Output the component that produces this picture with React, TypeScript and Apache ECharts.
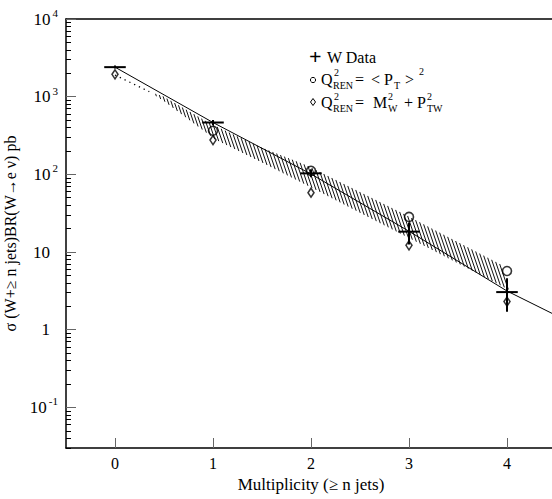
import React, { useEffect, useRef } from "react";
import * as echarts from "echarts";

// ---- data ----
const multiplicity = [0, 1, 2, 3, 4];
const wData = [2400, 465, 103, 18.3, 3.05];
const wErrLow = [2300, 430, 92, 12.5, 1.7];
const wErrHigh = [2520, 500, 116, 24, 4.6];

const circleN = [1, 2, 3, 4];
const circleQ = [364, 111, 28.3, 5.7];

const diamondN = [0, 1, 2, 3, 4];
const diamondQ = [1940, 276, 58, 12.2, 2.3];

const fitX = [0, 1, 2, 3, 4, 4.5];
const fitY = [2400, 465, 101, 18.5, 3.15, 1.53];

const dottedX = [0, 0.35];
const dottedY = [1900, 1160];

const bandX = [0.35, 0.5, 1, 1.5, 2, 2.5, 3, 3.5, 4];
const bandLow = [1160, 860, 280, 136, 64, 30, 14.2, 6.7, 3.15];
const bandHigh = [1160, 1010, 450, 228, 130, 63, 30.5, 14.3, 6.7];

const xTicks = [0, 1, 2, 3, 4];
const yMajorTicks = [0.1, 1, 10, 100, 1000, 10000];
const yMinorMantissas = [2, 3, 4, 5, 6, 7, 8, 9];
const yDecades = [0.01, 0.1, 1, 10, 100, 1000];

const FONT = "'Liberation Serif', 'Times New Roman', serif";

export default function App() {
  const ref = useRef<HTMLDivElement>(null);
  useEffect(() => {
    if (!ref.current) return;
    const chart = echarts.init(ref.current, undefined, { renderer: "svg" });

    const minorTicks: number[] = [];
    yDecades.forEach((d) =>
      yMinorMantissas.forEach((m) => {
        const v = +(m * d).toPrecision(3);
        if (v >= 0.03 && v <= 10000) minorTicks.push(v);
      })
    );

    const bandSegments = bandX.slice(0, -1).map((x, i) => [
      x, bandLow[i], bandHigh[i], bandX[i + 1], bandLow[i + 1], bandHigh[i + 1],
    ]);

    const crossData = multiplicity.map((n, i) => [n, wData[i], wErrLow[i], wErrHigh[i]]);

    const labelFormatter = (v: number) => {
      const e = Math.round(Math.log10(v));
      if (e === 0) return "{b|1}{s|}";
      if (e === 1) return "{b|10}{s|}";
      return "{b|10}{e|" + (e < 0 ? "-" + -e : e) + "}";
    };

    const t = (text: string, x: number, y: number, size = 16, extra: any = {}) => ({
      type: "text",
      x,
      y,
      style: {
        text,
        fontFamily: FONT,
        fontSize: size,
        lineHeight: size,
        fill: "#000",
        verticalAlign: "middle",
        align: "left",
        ...extra,
      },
    });

    const S = 10; // sub/superscript size
    const legend: any[] = [
      t("+", 309, 56, 22, { fontWeight: "bold" }),
      t("W Data", 327, 57),
      { type: "circle", shape: { cx: 313, cy: 80, r: 2.6 }, style: { fill: "none", stroke: "#000", lineWidth: 1 } },
      t("Q", 321, 79),
      t("2", 334, 72, S),
      t("REN", 333, 85.5, S),
      t("=", 355, 79),
      t("< P", 371, 79),
      t("T", 394, 85.5, S),
      t(">", 405, 79),
      t("2", 419, 71, S),
      {
        type: "polygon",
        shape: { points: [[313, 98.5], [315.5, 102], [313, 105.5], [310.5, 102]] },
        style: { fill: "none", stroke: "#000", lineWidth: 1 },
      },
      t("Q", 321, 102),
      t("2", 334, 96.5, S),
      t("REN", 333, 108.5, S),
      t("=", 355, 102),
      t("M", 373, 102),
      t("2", 388, 96.5, S),
      t("W", 388, 108.5, S),
      t("+", 404, 102),
      t("P", 417, 102),
      t("2", 427, 96.5, S),
      t("TW", 427, 108.5, S),
    ];

    chart.setOption({
      animation: false,
      backgroundColor: "#fff",
      textStyle: { fontFamily: FONT },
      grid: {
        left: 66,
        right: -4,
        top: 19,
        bottom: 51,
        show: false,
        containLabel: false,
        outerBoundsMode: "none",
      },
      xAxis: [
        {
          type: "value",
          min: -0.5,
          max: 4.5,
          axisLine: { show: true, onZero: false, lineStyle: { color: "#000", width: 1.5 } },
          axisTick: {
            show: true,
            inside: true,
            length: 10,
            customValues: xTicks,
            lineStyle: { color: "#666", width: 1 },
          },
          axisLabel: {
            customValues: xTicks,
            fontFamily: FONT,
            fontSize: 16,
            color: "#000",
            margin: 7,
          },
          splitLine: { show: false },
          name: "Multiplicity (≥ n jets)",
          nameLocation: "middle",
          nameGap: 28,
          nameTextStyle: { fontFamily: FONT, fontSize: 17, color: "#000" },
        },
        {
          type: "value",
          position: "top",
          min: -0.5,
          max: 4.5,
          axisLine: { show: true, onZero: false, lineStyle: { color: "#000", width: 1.5 } },
          axisTick: { show: false },
          axisLabel: { show: false },
          splitLine: { show: false },
        },
      ],
      yAxis: [
        {
          type: "log",
          logBase: 10,
          min: 0.03,
          max: 10000,
          axisLine: { show: true, onZero: false, lineStyle: { color: "#000", width: 1.5 } },
          axisTick: {
            show: true,
            inside: true,
            length: 10,
            customValues: yMajorTicks,
            lineStyle: { color: "#666", width: 1 },
          },
          axisLabel: {
            customValues: yMajorTicks,
            formatter: labelFormatter,
            margin: 8,
            rich: {
              b: { fontFamily: FONT, fontSize: 17, color: "#000" },
              e: { fontFamily: FONT, fontSize: 11, color: "#000", padding: [0, 0, 12, 2] },
              s: { width: 8 },
            },
          },
          splitLine: { show: false },
          name: "σ (W+≥ n jets)BR(W→e ν) pb",
          nameLocation: "middle",
          nameGap: 44,
          nameRotate: 90,
          nameTextStyle: { fontFamily: FONT, fontSize: 16, color: "#000" },
        },
        {
          type: "log",
          logBase: 10,
          min: 0.03,
          max: 10000,
          position: "left",
          axisLine: { show: false, onZero: false },
          axisTick: {
            show: true,
            inside: true,
            length: 5,
            customValues: minorTicks,
            lineStyle: { color: "#000", width: 1 },
          },
          axisLabel: { show: false },
          splitLine: { show: false },
        },
      ],
      graphic: legend,
      series: [
        {
          type: "custom",
          name: "band",
          yAxisIndex: 0,
          encode: { x: [0, 3], y: [1, 2, 4, 5] },
          data: bandSegments,
          silent: true,
          renderItem: (params: any, api: any) => {
            const x0 = api.value(0), lo0 = api.value(1), hi0 = api.value(2);
            const x1 = api.value(3), lo1 = api.value(4), hi1 = api.value(5);
            const a0 = api.coord([x0, hi0]);
            const b0 = api.coord([x0, lo0]);
            const a1 = api.coord([x1, hi1]);
            const b1 = api.coord([x1, lo1]);
            const step = 4;
            const children: any[] = [];
            for (let px = Math.ceil(a0[0] / step) * step; px < a1[0]; px += step) {
              const f = (px - a0[0]) / (a1[0] - a0[0]);
              const top = a0[1] + f * (a1[1] - a0[1]);
              const bot = b0[1] + f * (b1[1] - b0[1]);
              if (bot - top < 1) continue;
              const sl = (bot - top) * 0.17;
              children.push({
                type: "line",
                shape: { x1: px - sl, y1: top, x2: px + sl, y2: bot },
                style: { stroke: "#111", lineWidth: 1 },
              });
            }
            return { type: "group", children };
          },
          z: 2,
        },
        {
          type: "line",
          name: "dotted",
          data: dottedX.map((x, i) => [x, dottedY[i]]),
          symbol: "none",
          lineStyle: { color: "#000", width: 1.3, type: [1.3, 4] },
          z: 2,
        },
        {
          type: "line",
          name: "fit",
          data: fitX.map((x, i) => [x, fitY[i]]),
          symbol: "none",
          lineStyle: { color: "#000", width: 1 },
          z: 3,
        },
        {
          type: "custom",
          name: "W Data",
          encode: { x: 0, y: [1, 2, 3] },
          data: crossData,
          renderItem: (params: any, api: any) => {
            const n = api.value(0), v = api.value(1), lo = api.value(2), hi = api.value(3);
            const l = api.coord([n - 0.11, v]);
            const r = api.coord([n + 0.11, v]);
            const tp = api.coord([n, hi]);
            const bt = api.coord([n, lo]);
            return {
              type: "group",
              children: [
                { type: "line", shape: { x1: l[0], y1: l[1], x2: r[0], y2: r[1] }, style: { stroke: "#000", lineWidth: 2 } },
                { type: "line", shape: { x1: tp[0], y1: tp[1], x2: bt[0], y2: bt[1] }, style: { stroke: "#000", lineWidth: 2 } },
              ],
            };
          },
          z: 5,
        },
        {
          type: "scatter",
          name: "pt",
          data: circleN.map((n, i) => [n, circleQ[i]]),
          symbol: "circle",
          symbolSize: 9,
          itemStyle: { color: "rgba(0,0,0,0)", borderColor: "#000", borderWidth: 1.6 },
          z: 6,
        },
        {
          type: "scatter",
          name: "mw",
          data: diamondN.map((n, i) => [n, diamondQ[i]]),
          symbol: "diamond",
          symbolSize: [6, 9],
          itemStyle: { color: "rgba(0,0,0,0)", borderColor: "#000", borderWidth: 1.6 },
          z: 6,
        },
      ],
    });
    return () => chart.dispose();
  }, []);
  return (
    <div
      ref={ref}
      style={{ position: "fixed", left: 0, top: 0, width: 552, height: 499, background: "#fff" }}
    />
  );
}
